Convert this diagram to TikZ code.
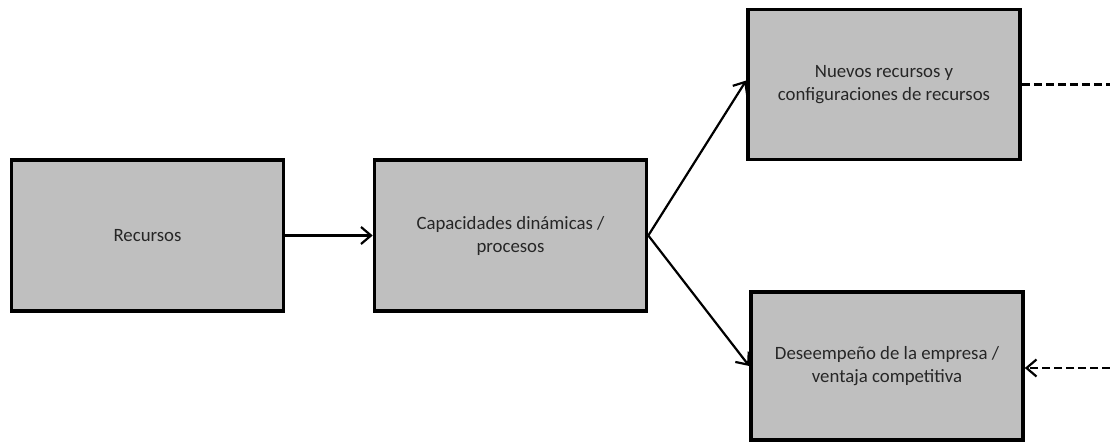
\documentclass[tikz,border=0pt]{standalone}
\usepackage{fontspec}
\setmainfont{Carlito}
\usetikzlibrary{arrows.meta}
\definecolor{boxgray}{HTML}{BFBFBF}
\definecolor{txtgray}{HTML}{262626}
\begin{document}
\begin{tikzpicture}[x=1pt,y=-1pt,
  procbox/.style={draw=black,line width=3.6pt,fill=boxgray,minimum width=272pt,
    minimum height=151pt,align=center,font=\fontsize{18.8}{23}\selectfont,text=txtgray,inner sep=0pt},
  tip/.style={-{Straight Barb[length=10pt,width=17pt,line width=2.2pt]}},
  link/.style={line width=2.2pt,tip},
  dlink/.style={line width=2.2pt,dash pattern=on 8pt off 4pt}]
\useasboundingbox (0,0) rectangle (1110,443);
\node[procbox] (rec) at (147.5,235.5) {Recursos};
\node[procbox] (cap) at (510.5,235.5) {Capacidades dinámicas /\\procesos};
\node[procbox,minimum height=150pt] (nue) at (884,84.5) {Nuevos recursos y\\configuraciones de recursos};
\node[procbox,minimum height=148pt] (des) at (887,366) {\raisebox{-2pt}{\begin{tabular}{@{}c@{}}Deseempeño de la empresa /\\ventaja competitiva\end{tabular}}};
\coordinate (e1) at (1110,84.5);
\coordinate (e2) at (1110,368);
\draw[link] (rec.east) -- (cap.west);
\draw[link] (cap.east) -- ([yshift=4pt]nue.west);
\draw[link] (cap.east) -- (des.west);
\draw[dlink] (nue.east) -- (e1);
\draw[dlink,tip] (e2) -- (des.east |- e2);
\end{tikzpicture}
\end{document}
